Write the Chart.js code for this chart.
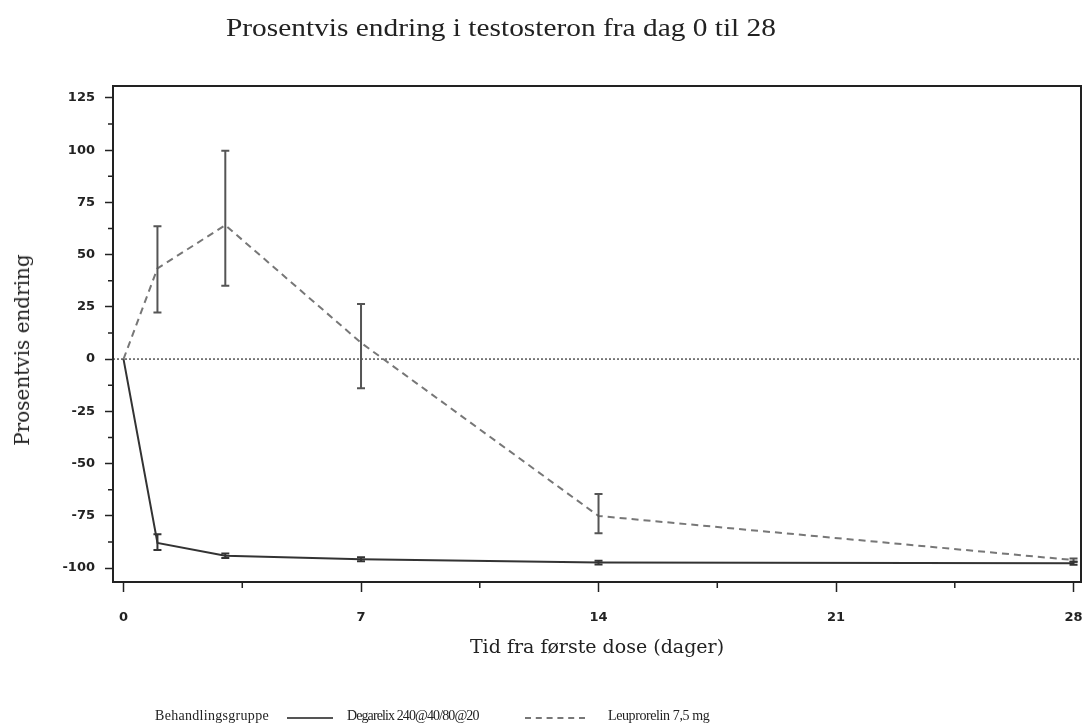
<!DOCTYPE html>
<html>
<head>
<meta charset="utf-8">
<script src="https://cdn.jsdelivr.net/npm/chart.js@4.4.1/dist/chart.umd.min.js"></script>
<style>
  body { margin: 0; background: #fff; }
  #wrap { position: relative; width: 1084px; height: 726px; }
  #chart { position: absolute; left: 0; top: 0; }
  .title { position: absolute; top: 13px; left: 226px; font: 26px "Liberation Serif", serif; color: #222; white-space: nowrap; transform: scaleX(1.13); transform-origin: left top; }
  .ytitle { position: absolute; left: 22px; top: 350px; font: 20px "DejaVu Serif", serif; color: #222; white-space: nowrap; transform: translate(-50%, -50%) rotate(-90deg); }
  .lg { position: absolute; top: 708px; font: 14px "Liberation Serif", serif; color: #222; white-space: nowrap; }
  .sample { position: absolute; top: 717px; height: 0; }
</style>
</head>
<body>
<div id="wrap">
  <canvas id="chart" width="1084" height="726"></canvas>
  <div class="title">Prosentvis endring i testosteron fra dag 0 til 28</div>
  <div class="ytitle">Prosentvis endring</div>
  <span class="lg" style="left:155px;letter-spacing:0.3px">Behandlingsgruppe</span>
  <div class="sample" style="left:287px;width:46px;border-top:2px solid #555"></div>
  <span class="lg" style="left:347px;letter-spacing:-0.9px">Degarelix 240@40/80@20</span>
  <div class="sample" style="left:525px;width:60px;border-top:2px dashed #777"></div>
  <span class="lg" style="left:608px;letter-spacing:-0.4px">Leuprorelin 7,5 mg</span>
</div>
<script>
// Days from first dose
const days = [0, 1, 3, 7, 14, 28];

// Degarelix: mean % change with error bar ends
const degarelix = [0, -88.0, -94.1, -95.8, -97.4, -97.7];
const degLow = [0, -91.4, -95.2, -96.8, -98.3, -98.4];
const degHigh = [0, -83.9, -93.0, -94.8, -96.5, -97.0];

// Leuprorelin: mean % change with error bar ends
const leuprorelin = [0, 43.4, 64.1, 7.8, -75.1, -96.2];
const leuLow = [0, 22.3, 35.1, -14.0, -83.4, -97.0];
const leuHigh = [0, 63.6, 99.7, 26.3, -64.6, -95.4];

// Axis ticks
const xTicks = [0, 7, 14, 21, 28];
const xMinor = [3.5, 10.5, 17.5, 24.5];
const yTicks = [-100, -75, -50, -25, 0, 25, 50, 75, 100, 125];
const yMinor = [-87.5, -62.5, -37.5, -12.5, 12.5, 37.5, 62.5, 87.5, 112.5];

const ink = '#222';

const extras = {
  id: 'extras',
  beforeDatasetsDraw(chart) {
    const { ctx, chartArea: a, scales: { y } } = chart;
    const y0 = y.getPixelForValue(0);
    ctx.save();
    ctx.strokeStyle = '#555';
    ctx.lineWidth = 1.5;
    ctx.setLineDash([2, 2]);
    ctx.beginPath();
    ctx.moveTo(a.left, y0);
    ctx.lineTo(a.right, y0);
    ctx.stroke();
    ctx.restore();
  },
  afterDatasetsDraw(chart) {
    const { ctx, chartArea: a, scales: { x, y } } = chart;
    ctx.save();
    // error bars
    const bars = [
      { low: leuLow, high: leuHigh, color: '#555' },
      { low: degLow, high: degHigh, color: '#333' }
    ];
    bars.forEach(b => {
      ctx.strokeStyle = b.color;
      ctx.lineWidth = 2;
      days.forEach((d, i) => {
        if (b.low[i] === b.high[i]) return;
        const px = x.getPixelForValue(d);
        const top = y.getPixelForValue(b.high[i]);
        const bot = y.getPixelForValue(b.low[i]);
        ctx.beginPath();
        ctx.moveTo(px, top); ctx.lineTo(px, bot);
        ctx.moveTo(px - 4, top); ctx.lineTo(px + 4, top);
        ctx.moveTo(px - 4, bot); ctx.lineTo(px + 4, bot);
        ctx.stroke();
      });
    });
    // frame
    ctx.strokeStyle = ink;
    ctx.lineWidth = 2;
    ctx.strokeRect(a.left, a.top, a.right - a.left, a.bottom - a.top);
    // minor ticks
    ctx.lineWidth = 1.5;
    ctx.beginPath();
    xMinor.forEach(v => {
      const px = x.getPixelForValue(v);
      ctx.moveTo(px, a.bottom); ctx.lineTo(px, a.bottom + 6);
    });
    yMinor.forEach(v => {
      const py = y.getPixelForValue(v);
      ctx.moveTo(a.left, py); ctx.lineTo(a.left - 5, py);
    });
    ctx.stroke();
    ctx.restore();
  }
};

const tickFont = { family: '"DejaVu Sans", sans-serif', size: 13, weight: 'bold' };

new Chart(document.getElementById('chart'), {
  type: 'line',
  data: {
    datasets: [
      {
        label: 'Degarelix 240@40/80@20',
        data: days.map((d, i) => ({ x: d, y: degarelix[i] })),
        borderColor: '#333',
        borderWidth: 2,
        pointRadius: 0,
        tension: 0
      },
      {
        label: 'Leuprorelin 7,5 mg',
        data: days.map((d, i) => ({ x: d, y: leuprorelin[i] })),
        borderColor: '#777',
        borderWidth: 2,
        borderDash: [7, 5],
        pointRadius: 0,
        tension: 0
      }
    ]
  },
  options: {
    responsive: false,
    animation: false,
    layout: { padding: { top: 86, right: 3, left: 0, bottom: 0 } },
    plugins: { legend: { display: false }, tooltip: { enabled: false } },
    scales: {
      x: {
        type: 'linear',
        min: -0.31,
        max: 28.22,
        afterBuildTicks: s => { s.ticks = xTicks.map(v => ({ value: v })); },
        afterFit: s => { s.height = 144; s.paddingLeft = 0; s.paddingRight = 0; },
        grid: { drawOnChartArea: false, tickLength: 10, color: ink, tickWidth: 1.5 },
        border: { color: ink, width: 2 },
        ticks: { font: tickFont, color: ink, padding: 18, maxRotation: 0, autoSkip: false },
        title: { display: true, text: 'Tid fra første dose (dager)', font: { family: '"DejaVu Serif", serif', size: 19 }, color: ink, padding: { top: 0, bottom: 67 } }
      },
      y: {
        min: -106.7,
        max: 130.7,
        afterBuildTicks: s => { s.ticks = yTicks.map(v => ({ value: v })); },
        afterFit: s => { s.width = 113; },
        grid: { drawOnChartArea: false, tickLength: 8, color: ink, tickWidth: 1.5 },
        border: { color: ink, width: 2 },
        ticks: { font: tickFont, color: ink, padding: 10, autoSkip: false, callback: v => String(v) }
      }
    }
  },
  plugins: [extras]
});
</script>
</body>
</html>
